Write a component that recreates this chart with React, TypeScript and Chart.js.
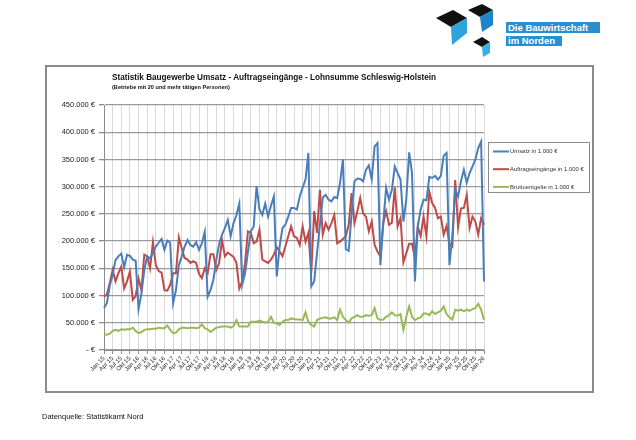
import { useEffect, useRef } from "react";
import { Chart, registerables } from "chart.js";

Chart.register(...registerables);

// Monthly values in 1.000 €, Jan 2015 – Jan 2026
const MONTHS = ["Jan", "Feb", "Mrz", "Apr", "Mai", "Jun", "Jul", "Aug", "Sep", "Okt", "Nov", "Dez"];
const YEARS = ["15", "16", "17", "18", "19", "20", "21", "22", "23", "24", "25", "26"];
const POINT_COUNT = 133;

const categories: string[] = [];
YEARS.forEach((y) => MONTHS.forEach((m) => categories.push(`${m} ${y}`)));
categories.length = POINT_COUNT;

const umsatz = [
  77, 86, 118, 138, 165, 172, 177, 152, 175, 173, 166, 164,
  75, 104, 147, 172, 168, 178, 190, 197, 204, 184, 201, 197,
  86, 110, 156, 172, 190, 202, 193, 190, 198, 184, 196, 217,
  98, 110, 129, 165, 195, 212, 224, 239, 209, 233, 248, 269,
  120, 141, 180, 218, 227, 301, 258, 248, 269, 245, 265, 282,
  135, 190, 224, 230, 245, 261, 261, 258, 282, 298, 313, 362,
  117, 126, 178, 230, 280, 285, 276, 273, 281, 279, 307, 350,
  185, 182, 250, 310, 315, 314, 310, 331, 339, 313, 374, 380,
  156, 233, 298, 276, 294, 337, 325, 313, 236, 276, 363, 325,
  126, 227, 258, 276, 275, 318, 316, 320, 313, 320, 357, 362,
  156, 209, 294, 282, 310, 331, 307, 325, 337, 350, 371, 383,
  126,
];

const auftragseingaenge = [
  98, 102, 123, 147, 126, 141, 153, 113, 126, 144, 92, 99,
  131, 110, 175, 172, 150, 198, 156, 145, 142, 110, 109, 120,
  141, 141, 207, 187, 169, 166, 160, 163, 160, 140, 132, 150,
  141, 176, 176, 147, 160, 202, 172, 179, 175, 171, 160, 113,
  126, 160, 218, 215, 196, 199, 221, 166, 163, 160, 166, 175,
  189, 181, 172, 190, 209, 227, 209, 206, 193, 227, 199, 215,
  141, 255, 215, 294, 212, 233, 221, 233, 248, 196, 199, 204,
  209, 230, 288, 233, 255, 279, 251, 245, 218, 236, 193, 181,
  172, 233, 255, 230, 234, 299, 227, 242, 161, 178, 195, 195,
  169, 227, 209, 245, 209, 291, 270, 261, 242, 245, 212, 228,
  196, 190, 312, 226, 260, 261, 285, 224, 245, 236, 212, 242,
  230,
];

const bruttoentgelte = [
  29, 28, 30, 35, 37, 35, 38, 37, 38, 38, 41, 35,
  31, 33, 37, 38, 38, 39, 39, 41, 40, 40, 45, 37,
  31, 32, 38, 41, 41, 40, 41, 41, 40, 41, 47, 40,
  38, 33, 37, 41, 42, 43, 43, 43, 41, 44, 55, 43,
  43, 43, 43, 52, 52, 52, 54, 52, 50, 52, 61, 50,
  49, 46, 52, 55, 55, 58, 57, 56, 56, 55, 69, 52,
  46, 43, 55, 58, 59, 60, 58, 58, 60, 55, 74, 61,
  55, 50, 58, 61, 64, 61, 61, 64, 63, 64, 77, 58,
  55, 56, 61, 64, 69, 64, 63, 66, 37, 61, 80, 61,
  55, 58, 60, 67, 67, 64, 71, 66, 69, 72, 80, 66,
  60, 56, 74, 72, 74, 71, 74, 72, 75, 77, 85, 74,
  55,
];

const SERIES_LABELS = ["Umsatz in 1.000 €", "Auftragseingänge in 1.000 €", "Bruttoentgelte in 1.000 €"];
const SERIES_COLORS = ["#4a7ebb", "#be4b48", "#98b954"];

const Y_MAX = 450;
const Y_STEP = 50;

const FONT = "'Liberation Sans', Arial, Helvetica, sans-serif";

// Framed legend to the right of the plot, drawn from the dataset list
const legendBoxPlugin = {
  id: "legendBox",
  afterDraw(chart: Chart) {
    const { ctx } = chart;
    ctx.save();
    ctx.strokeStyle = "#8c8c8c";
    ctx.lineWidth = 1;
    ctx.strokeRect(488.5, 142.5, 101, 50);
    chart.data.datasets.forEach((ds: any, k: number) => {
      const y = 151.5 + k * 17.7;
      ctx.strokeStyle = ds.borderColor;
      ctx.lineWidth = 2;
      ctx.beginPath();
      ctx.moveTo(493, y);
      ctx.lineTo(509, y);
      ctx.stroke();
      ctx.fillStyle = "#333";
      ctx.font = `5.9px ${FONT}`;
      ctx.textBaseline = "middle";
      ctx.textAlign = "left";
      ctx.fillText(ds.label, 510, y);
    });
    ctx.restore();
  },
};

function LineChart() {
  const ref = useRef<HTMLCanvasElement | null>(null);

  useEffect(() => {
    if (!ref.current) return;
    const seriesData = [umsatz, auftragseingaenge, bruttoentgelte];
    const chart = new Chart(ref.current, {
      type: "line",
      data: {
        labels: categories,
        datasets: seriesData.map((d, k) => ({
          label: SERIES_LABELS[k],
          data: d,
          borderColor: SERIES_COLORS[k],
          backgroundColor: SERIES_COLORS[k],
          borderWidth: 2,
          pointRadius: 0,
          tension: 0,
          fill: false,
        })),
      },
      options: {
        responsive: false,
        maintainAspectRatio: false,
        animation: false,
        layout: { padding: { left: 0, top: 105, right: 152, bottom: 0 } },
        plugins: {
          legend: { display: false },
          tooltip: { enabled: false },
          title: { display: false },
        },
        scales: {
          x: {
            type: "category",
            offset: false,
            afterFit: (s: any) => {
              s.height = 90;
            },
            border: { display: true, color: "#8c8c8c", width: 1 },
            grid: {
              drawOnChartArea: true,
              tickLength: 4,
              lineWidth: 1,
              color: (c: any) => (c.index % 3 === 0 ? "#d9d9d9" : "rgba(0,0,0,0)"),
              tickColor: (c: any) => (c.index % 3 === 0 ? "#8c8c8c" : "rgba(0,0,0,0)"),
            },
            ticks: {
              autoSkip: false,
              minRotation: 45,
              maxRotation: 45,
              padding: 1,
              color: "#222",
              font: { family: FONT, size: 6 },
              callback: (_v: any, idx: number) => (idx % 3 === 0 ? categories[idx] : ""),
            },
          },
          y: {
            min: 0,
            max: Y_MAX,
            afterFit: (s: any) => {
              s.width = 104;
            },
            border: { display: true, color: "#8c8c8c", width: 1 },
            grid: {
              color: "#9a9a9a",
              lineWidth: 1.3,
              tickLength: 5,
              tickColor: "#8c8c8c",
            },
            ticks: {
              stepSize: Y_STEP,
              padding: 4,
              color: "#222",
              font: { family: FONT, size: 7.5 },
              callback: (v: any) => (Number(v) === 0 ? "- €" : `${v}.000 €`),
            },
          },
        },
      },
      plugins: [legendBoxPlugin],
    });
    return () => chart.destroy();
  }, []);

  return (
    <canvas
      ref={ref}
      width={636}
      height={440}
      style={{ position: "absolute", left: 0, top: 0, width: 636, height: 440 }}
    />
  );
}

function Logo() {
  return (
    <div style={{ position: "absolute", left: 430, top: 0, width: 206, height: 60 }}>
      <svg width={70} height={60} style={{ position: "absolute", left: 0, top: 0 }}>
        <polygon points="6,18 23,10 37,18 21,27" fill="#111" />
        <polygon points="21,27 37,18 37,33 22,45" fill="#2ea3dc" />
        <polygon points="38,10 52,4 63,10 50,17" fill="#111" />
        <polygon points="50,17 63,10 63,25 52,32" fill="#1e86c8" />
        <polygon points="43,42 52,37 60,42 52,47" fill="#111" />
        <polygon points="52,47 60,42 60,53 53,57" fill="#3cb0e4" />
      </svg>
      <div
        style={{
          position: "absolute",
          left: 76,
          top: 22,
          width: 94,
          height: 11,
          background: "#2a8fd0",
          color: "#fff",
          font: `bold 9.5px ${FONT}`,
          lineHeight: "11px",
          paddingLeft: 2,
          boxSizing: "border-box",
          whiteSpace: "nowrap",
        }}
      >
        Die Bauwirtschaft
      </div>
      <div
        style={{
          position: "absolute",
          left: 76,
          top: 36,
          width: 56,
          height: 10,
          background: "#2a8fd0",
          color: "#fff",
          font: `bold 9.5px ${FONT}`,
          lineHeight: "10px",
          paddingLeft: 2,
          boxSizing: "border-box",
          whiteSpace: "nowrap",
        }}
      >
        im Norden
      </div>
    </div>
  );
}

export default function App() {
  return (
    <div
      style={{
        position: "fixed",
        left: 0,
        top: 0,
        width: 636,
        height: 440,
        background: "#fff",
        overflow: "hidden",
        fontFamily: FONT,
      }}
    >
      <Logo />
      <div
        style={{
          position: "absolute",
          left: 45,
          top: 65,
          width: 549,
          height: 328,
          border: "2px solid #8a8a8a",
          boxSizing: "border-box",
        }}
      />
      <LineChart />
      <div
        style={{
          position: "absolute",
          left: 112,
          top: 73,
          font: `bold 8.2px ${FONT}`,
          color: "#111",
          whiteSpace: "nowrap",
          lineHeight: "10px",
        }}
      >
        Statistik Baugewerbe Umsatz - Auftragseingänge - Lohnsumme Schleswig-Holstein
      </div>
      <div
        style={{
          position: "absolute",
          left: 112,
          top: 84,
          font: `bold 5.6px ${FONT}`,
          color: "#111",
          whiteSpace: "nowrap",
          lineHeight: "7px",
        }}
      >
        (Betriebe mit 20 und mehr tätigen Personen)
      </div>
      <div
        style={{
          position: "absolute",
          left: 42,
          top: 412,
          font: `7.5px ${FONT}`,
          color: "#111",
          whiteSpace: "nowrap",
          lineHeight: "10px",
        }}
      >
        Datenquelle: Statistikamt Nord
      </div>
    </div>
  );
}
